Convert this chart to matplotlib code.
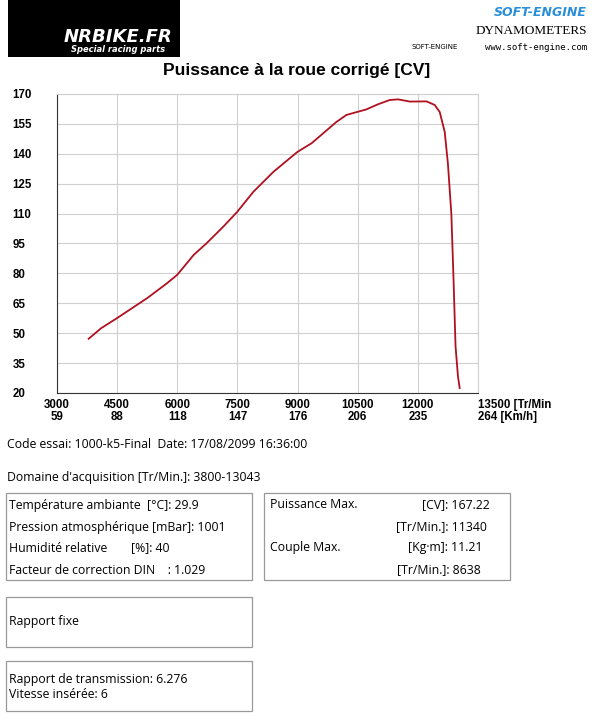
import matplotlib
matplotlib.use("Agg")
import matplotlib.pyplot as plt
from matplotlib.patches import Rectangle

rpm = [3789, 4100, 4500, 5250, 5740, 6000, 6410, 6735, 7150, 7500, 7900, 8400, 9000, 9350, 9970,
       10220, 10720, 11000, 11300, 11510, 11800, 12215, 12420, 12545, 12670, 12750, 12835, 12890,
       12940, 13000, 13043]
power = [47.2, 52.5, 57.6, 67.6, 75, 79.3, 89.3, 95.2, 103.5, 111, 121, 131, 141, 145.3, 156,
         159.5, 162.3, 164.8, 167, 167.3, 166.2, 166.3, 164.5, 161, 151, 135, 110, 76.8,
         43.4, 28.4, 22.5]
xticks = [3000, 4500, 6000, 7500, 9000, 10500, 12000, 13500]
speeds = [59, 88, 118, 147, 176, 206, 235, 264]
yticks = [20, 35, 50, 65, 80, 95, 110, 125, 140, 155, 170]

W, H = 595, 720
fig = plt.figure(figsize=(W/100, H/100), dpi=100)

def fx(px): return px / W
def fy(py): return 1 - py / H

ax = fig.add_axes([fx(57), fy(393), fx(478 - 57), (393 - 94) / H])
ax.plot(rpm, power, color="#b01020", lw=1.3)
ax.set_xlim(3000, 13500)
ax.set_ylim(20, 170)
ax.set_xticks(xticks)
ax.set_yticks(yticks)
labels = [f"{a}\n{b}" for a, b in zip(xticks, speeds)]
labels[-1] = "13500 [Tr/Min\n264 [Km/h]"
ax.set_xticklabels(labels, fontsize=8.3, fontweight="bold", family="Liberation Sans", linespacing=1.0)
ax.set_yticklabels(yticks, fontsize=8.3, fontweight="bold", family="Liberation Sans")
ax.get_xticklabels()[-1].set_horizontalalignment("left")
ax.tick_params(length=0, pad=4)
ax.tick_params(axis="y", pad=32)
for t in ax.get_yticklabels():
    t.set_horizontalalignment("left")
ax.grid(True, color="#d0d0d0", lw=0.8)
for s in ["top", "right"]:
    ax.spines[s].set_color("#d0d0d0")
for s in ["left", "bottom"]:
    ax.spines[s].set_color("#333333")

fig.text(fx(297), fy(71), "Puissance à la roue corrigé [CV]", ha="center", va="center",
         fontsize=12.5, fontweight="bold", family="Liberation Sans")

fig.patches.append(Rectangle((fx(8), fy(57)), fx(172), 57 / H, transform=fig.transFigure,
                             facecolor="black", edgecolor="none"))
fig.text(fx(118), fy(37), "NRBIKE.FR", color="white", fontsize=13, fontweight="bold",
         style="italic", ha="center", va="center", family="DejaVu Sans")
fig.text(fx(118), fy(50), "Special racing parts", color="white", fontsize=6, fontweight="bold",
         style="italic", ha="center", va="center")
fig.text(fx(587), fy(12), "SOFT-ENGINE", color="#2a8fd8", fontsize=9, fontweight="bold",
         style="italic", ha="right", va="center")
fig.text(fx(587), fy(31), "DYNAMOMETERS", color="black", fontsize=9.5,
         ha="right", va="center", family="Liberation Serif")
fig.text(fx(587), fy(47), "www.soft-engine.com", color="black", fontsize=6.5,
         ha="right", va="center", family="DejaVu Sans Mono")
fig.text(fx(412), fy(47), "SOFT-ENGINE", color="black", fontsize=5, ha="left", va="center")

F = "Open Sans"
fs = 8.8
fig.text(fx(7), fy(445), "Code essai: 1000-k5-Final  Date: 17/08/2099 16:36:00", fontsize=fs,
         family=F, va="center")
fig.text(fx(7), fy(477), "Domaine d'acquisition [Tr/Min.]: 3800-13043", fontsize=fs,
         family=F, va="center")

def box(x0, y0, x1, y1):
    fig.patches.append(Rectangle((fx(x0), fy(y1)), fx(x1 - x0), (y1 - y0) / H,
                                 transform=fig.transFigure, facecolor="none",
                                 edgecolor="#999999", lw=0.9))

box(6, 493, 252, 580)
box(264, 493, 510, 580)
box(6, 597, 252, 647)
box(6, 661, 252, 711)

rows_y = [505, 527, 548, 570]
left_lbl = ["Température ambiante", "Pression atmosphérique [mBar]: 1001",
            "Humidité relative", "Facteur de correction DIN    : 1.029"]
for y, t in zip(rows_y, left_lbl):
    fig.text(fx(9), fy(y), t, fontsize=fs, family=F, va="center")
fig.text(fx(147), fy(505), "[°C]: 29.9", fontsize=fs, family=F, va="center")
fig.text(fx(131), fy(548), "[%]: 40", fontsize=fs, family=F, va="center")

fig.text(fx(270), fy(505), "Puissance Max.", fontsize=fs, family=F, va="center")
fig.text(fx(270), fy(548), "Couple Max.", fontsize=fs, family=F, va="center")
right_vals = ["[CV]: 167.22", "[Tr/Min.]: 11340", "[Kg·m]: 11.21", "[Tr/Min.]: 8638"]
right_x = [490, 487, 483, 481]
for y, x, t in zip(rows_y, right_x, right_vals):
    fig.text(fx(x), fy(y), t, fontsize=fs, family=F, va="center", ha="right")

fig.text(fx(9), fy(622), "Rapport fixe", fontsize=fs, family=F, va="center")
fig.text(fx(9), fy(680), "Rapport de transmission: 6.276", fontsize=fs, family=F, va="center")
fig.text(fx(9), fy(695), "Vitesse insérée: 6", fontsize=fs, family=F, va="center")

fig.savefig("out.png", dpi=100)
